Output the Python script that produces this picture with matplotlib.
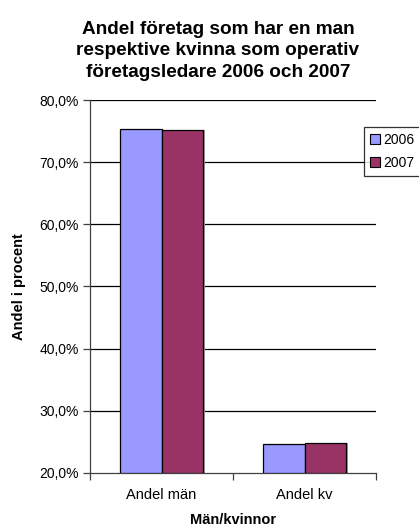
import numpy as np
import matplotlib
matplotlib.use("Agg")
import matplotlib.pyplot as plt
from matplotlib.patches import Patch

plt.rcParams['font.family'] = ['Liberation Sans', 'DejaVu Sans']

categories = ['Andel män', 'Andel kv']
series = ['2006', '2007']
values_2006 = [75.4, 24.6]
values_2007 = [75.2, 24.8]
colors = ['#9999FF', '#993366']
yticks = [20, 30, 40, 50, 60, 70, 80]

fig = plt.figure(figsize=(4.19, 5.28), dpi=100)
ax = fig.add_axes([0.2148, 0.1042, 0.8974 - 0.2148, 0.8106 - 0.1042])

x = np.arange(len(categories))
w = 0.29
for off, vals, col in [(-w / 2, values_2006, colors[0]), (w / 2, values_2007, colors[1])]:
    # light grey shadow like the Excel original
    ax.bar(x + off + 0.012, np.array(vals) - 20, width=w, bottom=20,
           color='#a0a0a0', edgecolor='none', zorder=2)
    ax.bar(x + off, np.array(vals) - 20, width=w, bottom=20,
           color=col, edgecolor='black', linewidth=0.9, zorder=3)

ax.set_ylim(20, 80)
ax.set_xlim(-0.5, 1.5)
ax.set_yticks(yticks)
ax.set_yticklabels([f'{t:.1f}%'.replace('.', ',') for t in yticks], fontsize=10)
for t in yticks[1:]:
    ax.axhline(t, color='black', linewidth=0.9, zorder=1)

ax.set_xticks(x)
ax.set_xticklabels(categories, fontsize=10.5)
ax.tick_params(axis='x', which='major', length=0, pad=11)
ax.set_xticks([-0.5, 0.5, 1.5], minor=True)
ax.tick_params(axis='x', which='minor', length=5, width=0.9, color='#404040', direction='out')
ax.tick_params(axis='y', length=5, width=0.9, color='#404040', direction='out', pad=3)

for s in ['top', 'right']:
    ax.spines[s].set_visible(False)
for s in ['left', 'bottom']:
    ax.spines[s].set_color('#404040')
    ax.spines[s].set_linewidth(0.9)

ax.set_ylabel('Andel i procent', fontsize=10.5, fontweight='bold', labelpad=10)
ax.set_xlabel('Män/kvinnor', fontsize=10.5, fontweight='bold', labelpad=8)

fig.text(0.52, 0.961, 'Andel företag som har en man\nrespektive kvinna som operativ\nföretagsledare 2006 och 2007',
         ha='center', va='top', fontsize=13.7, fontweight='bold', linespacing=1.36)

handles = [Patch(facecolor=c, edgecolor='black', linewidth=0.8) for c in colors]
leg = fig.legend(handles, series, loc='upper left', bbox_to_anchor=(0.869, 0.760),
                 fontsize=10, frameon=True, fancybox=False, handlelength=0.7,
                 handleheight=0.7, handletextpad=0.25, borderpad=0.45, labelspacing=0.65,
                 borderaxespad=0)
leg.get_frame().set_edgecolor('black')
leg.get_frame().set_linewidth(0.9)

fig.savefig('out.png', dpi=100)
